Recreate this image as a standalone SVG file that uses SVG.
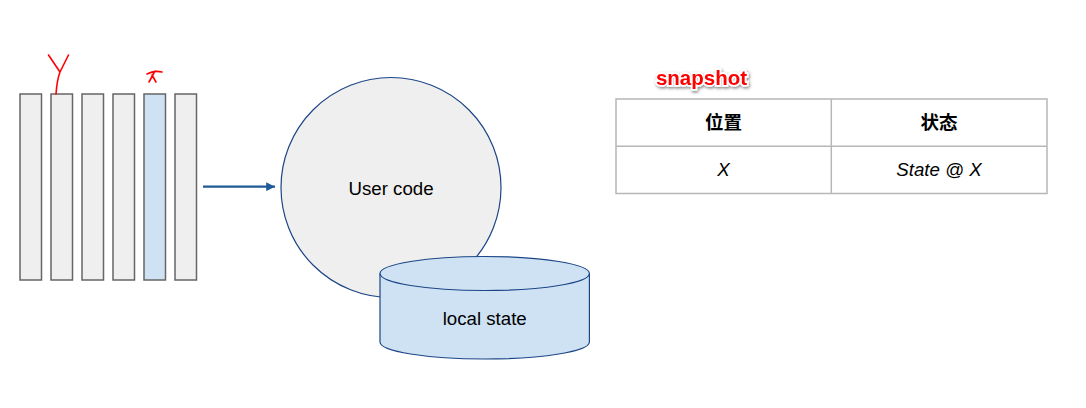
<svg xmlns="http://www.w3.org/2000/svg" width="1086" height="408" viewBox="0 0 1086 408">
  <defs>
    <style>
      .bar { fill: #efefef; stroke: #666666; stroke-width: 1.5; }
      .bar-sel { fill: #cfe2f3; stroke: #666666; stroke-width: 1.5; }
      .ink { fill: none; stroke: #ff0000; stroke-width: 1.6; stroke-linecap: round; stroke-linejoin: round; }
      .lbl { font-family: "Liberation Sans", Arial, sans-serif; font-size: 18.7px; fill: #000000; text-anchor: middle; }
      .cell { fill: #ffffff; stroke: #b7b7b7; stroke-width: 1.5; }
      .hdr { font-family: "Liberation Sans", "Noto Sans CJK SC", sans-serif; font-size: 18.5px; font-weight: bold; fill: #000000; text-anchor: middle; }
      .it { font-family: "Liberation Sans", Arial, sans-serif; font-size: 18.7px; font-style: italic; fill: #000000; text-anchor: middle; }
    </style>
    <marker id="arr" viewBox="0 0 10 10" refX="10" refY="5" markerWidth="4" markerHeight="4" markerUnits="strokeWidth" orient="auto">
      <path d="M0,0 L10,5 L0,10 z" fill="#1f5a96"/>
    </marker>
    <filter id="glow" x="-20%" y="-40%" width="140%" height="180%">
      <feDropShadow dx="1" dy="1.5" stdDeviation="1.5" flood-color="#000000" flood-opacity="0.5"/>
    </filter>
  </defs>
  <rect width="1086" height="408" fill="#ffffff"/>

  <g id="stream">
    <rect class="bar" x="20" y="94" width="21.5" height="186"/>
    <rect class="bar" x="51" y="94" width="21.5" height="186"/>
    <rect class="bar" x="82" y="94" width="21.5" height="186"/>
    <rect class="bar" x="113" y="94" width="21.5" height="186"/>
    <rect class="bar-sel" x="144" y="94" width="21.5" height="186"/>
    <rect class="bar" x="175" y="94" width="21.5" height="186"/>
  </g>

  <g id="mark-y">
    <path class="ink" d="M48.5,55 L60,72 L68.5,55 M60,72 Q57,80 56,94"/>
  </g>
  <g id="mark-x">
    <path class="ink" d="M147,74 Q154,70 162,72 M155,71 L149,82 M152,75 L156,82"/>
  </g>

  <g id="connectors">
    <line x1="203" y1="186.7" x2="275" y2="186.7" stroke="#1f5a96" stroke-width="2.2" marker-end="url(#arr)"/>
  </g>

  <g id="user-code">
    <circle cx="391" cy="187.5" r="110" fill="#efefef" stroke="#1c4587" stroke-width="1.2"/>
    <text class="lbl" x="391" y="195">User code</text>
  </g>

  <g id="local-state">
    <path d="M380,273.5 L380,342 A104.7,17 0 0 0 589.4,342 L589.4,273.5" fill="#cfe2f3" stroke="#1c4587" stroke-width="1.2"/>
    <ellipse cx="484.7" cy="273.5" rx="104.7" ry="17" fill="#cfe2f3" stroke="#1c4587" stroke-width="1.2"/>
    <text class="lbl" x="484.7" y="325">local state</text>
  </g>

  <g id="snapshot-label">
    <text x="701.5" y="85" font-family="Liberation Sans, Arial, sans-serif" font-size="20.5" font-weight="bold" fill="#ff0000" stroke="#ffffff" stroke-width="3.5" paint-order="stroke" text-anchor="middle" filter="url(#glow)">snapshot</text>
  </g>

  <g id="snapshot-table">
    <rect class="cell" x="616" y="99" width="431" height="94.5"/>
    <line x1="616" y1="146.3" x2="1047" y2="146.3" stroke="#b7b7b7" stroke-width="1.5"/>
    <line x1="831.3" y1="99" x2="831.3" y2="193.5" stroke="#b7b7b7" stroke-width="1.5"/>
    <text class="hdr" x="723.5" y="129">位置</text>
    <text class="hdr" x="939" y="129">状态</text>
    <text class="it" x="723.5" y="176">X</text>
    <text class="it" x="939" y="176">State @ X</text>
  </g>
</svg>
